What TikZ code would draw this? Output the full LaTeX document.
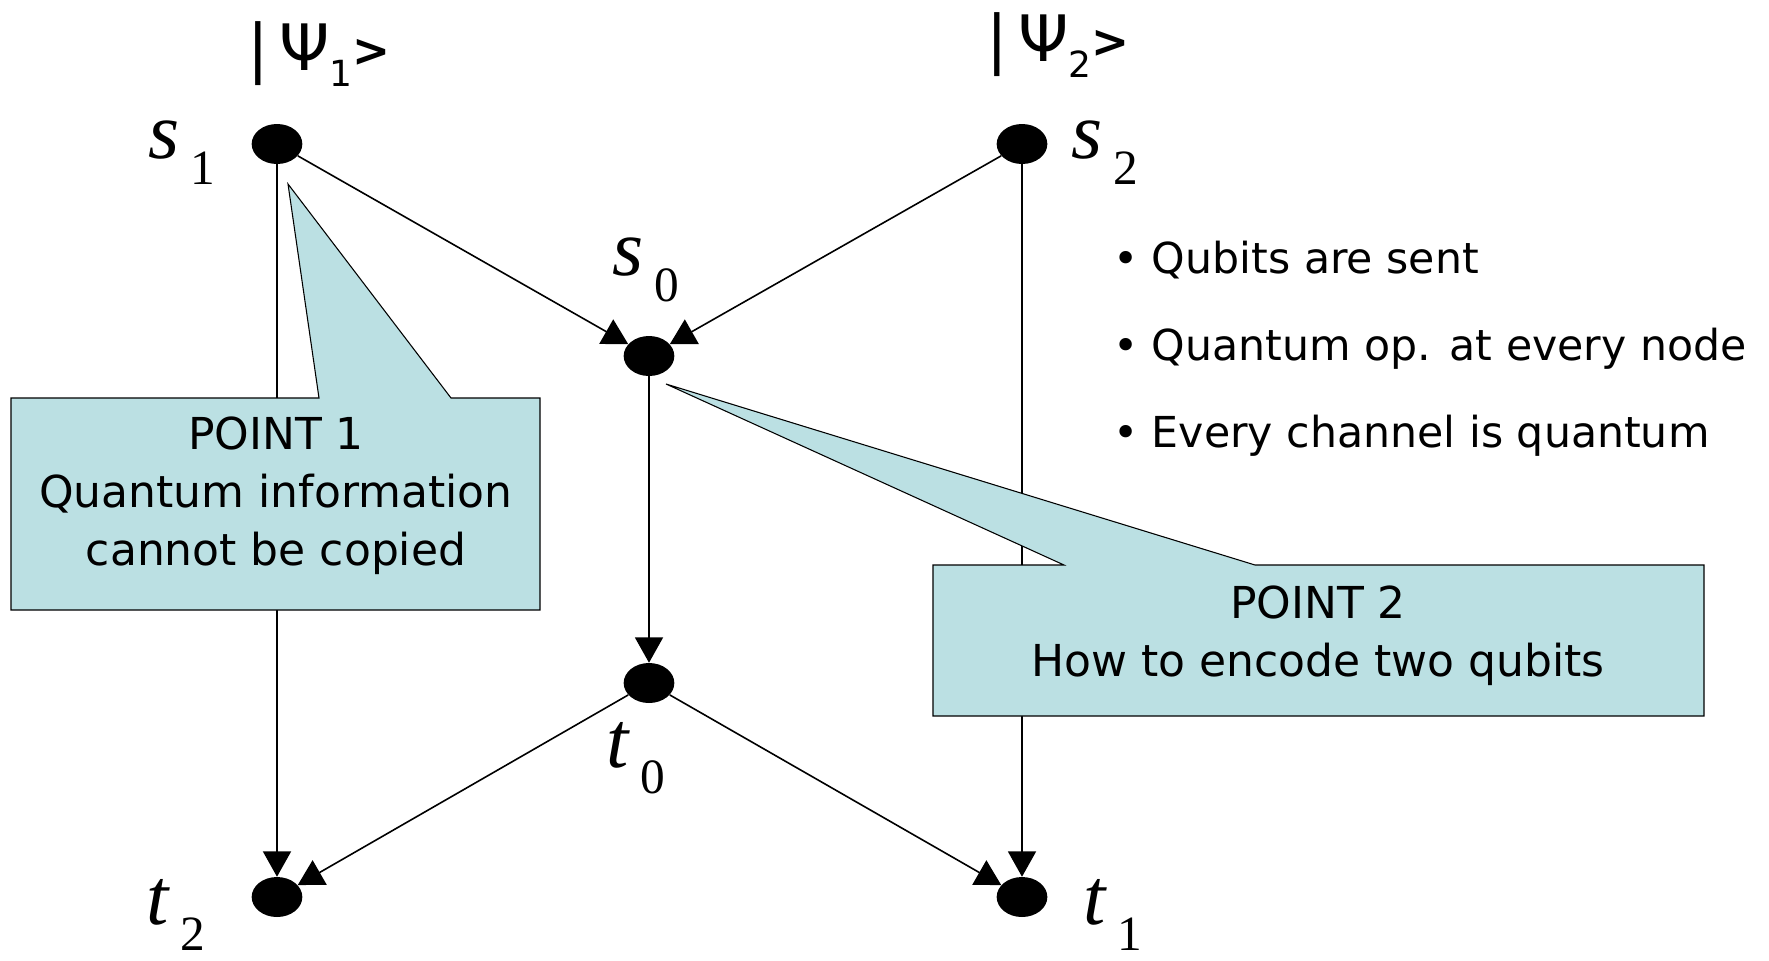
\documentclass[tikz,border=0pt]{standalone}
\usepackage{fontspec}
\setmainfont{DejaVu Sans}
\newfontfamily\labelfont{Liberation Serif}
\usetikzlibrary{shapes.geometric,arrows.meta}
\definecolor{calloutblue}{RGB}{187,224,227}
\newcommand{\vlabel}[2]{{\labelfont\fontsize{60}{60}\selectfont\textit{#1}\hspace{8pt}\raisebox{-20pt}{\fontsize{37}{37}\selectfont #2}}}
\newcommand{\ketlabel}[1]{{\fontsize{48}{48}\selectfont|\kern8pt Ψ}\raisebox{-12pt}{\fontsize{27}{27}\selectfont #1}\raisebox{3pt}{\fontsize{34}{34}\selectfont\bfseries >}}
\begin{document}
\begin{tikzpicture}[x=0.75pt,y=0.75pt,yscale=-1,xscale=1,
    vertex/.style={ellipse,fill=black,minimum width=38pt,minimum height=30pt,inner sep=0pt},
    channel/.style={line width=1.2pt,-{Triangle[length=19pt,width=21pt]}},
    callout/.style={draw=black,line width=0.8pt,fill=calloutblue},
    notetext/.style={align=center,inner sep=0pt,font=\fontsize{33}{43.5}\selectfont},
    bullettext/.style={anchor=base west,inner sep=0pt,font=\fontsize{32}{32}\selectfont},
    lbl/.style={anchor=base west,inner sep=0pt}]

\useasboundingbox (0,0) rectangle (1769,960);

% Vertices
\node[vertex] (s1) at (277,144) {};
\node[vertex] (s2) at (1022,144) {};
\node[vertex] (s0) at (649,356) {};
\node[vertex] (t0) at (649,683) {};
\node[vertex] (t2) at (277,897) {};
\node[vertex] (t1) at (1022,897) {};

% Channels
\draw[channel] (s1) -- (s0);
\draw[channel] (s2) -- (s0);
\draw[channel] (s0) -- (t0);
\draw[channel] (t0) -- (t2);
\draw[channel] (t0) -- (t1);
\draw[channel] (s1) -- (t2);
\draw[channel] (s2) -- (t1);

% Vertex labels
\node[lbl] (s1lbl) at (148,158) {\vlabel{s}{1}};
\node[lbl] (s2lbl) at (1071,158) {\vlabel{s}{2}};
\node[lbl] (s0lbl) at (612,275) {\vlabel{s}{0}};
\node[lbl] (t0lbl) at (606,767) {\vlabel{t}{0}};
\node[lbl] (t2lbl) at (146,924) {\vlabel{t}{2}};
\node[lbl] (t1lbl) at (1083,924) {\vlabel{t}{1}};

% Input states
\node[lbl] (psi1) at (247,70) {\ketlabel{1}};
\node[lbl] (psi2) at (986,61) {\ketlabel{2}};

% Callout 1
\coordinate (tip1) at (288,184);
\draw[callout] (11,398) -- (319,398) -- (tip1) -- (451,398) -- (540,398) -- (540,610) -- (11,610) -- cycle;
\node[notetext] (note1) at (276,496) {POINT 1\\Quantum information\\cannot be copied};

% Callout 2
\coordinate (tip2) at (666,384);
\draw[callout] (933,565) -- (1064,565) -- (tip2) -- (1255,565) -- (1704,565) -- (1704,716) -- (933,716) -- cycle;
\node[notetext] (note2) at (1318,636) {POINT 2\\How to encode two qubits};

% Bullet list
\node[bullettext] (item1) at (1113,273) {• Qubits are sent};
\node[bullettext] (item2) at (1113,360) {• Quantum op. at every node};
\node[bullettext] (item3) at (1113,447) {• Every channel is quantum};
\end{tikzpicture}
\end{document}
